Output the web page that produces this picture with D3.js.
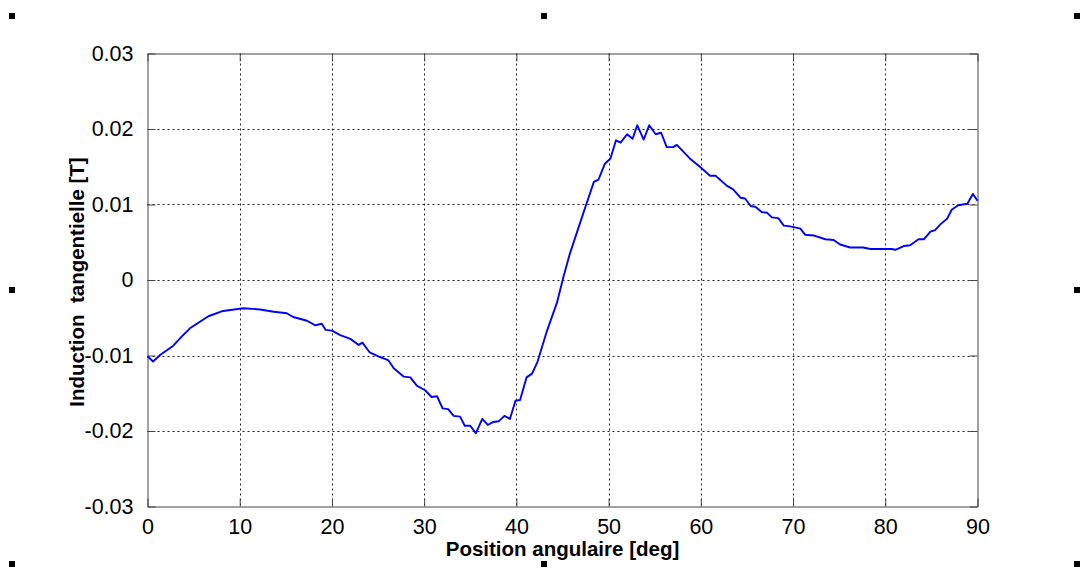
<!DOCTYPE html>
<html>
<head>
<meta charset="utf-8">
<script src="https://cdn.jsdelivr.net/npm/d3@7/dist/d3.min.js"></script>
<style>
html,body{margin:0;padding:0;background:#fff;}
svg{display:block;font-family:"Liberation Sans",Arial,sans-serif;}
</style>
</head>
<body>
<svg id="chart" width="1080" height="571"></svg>
<script>
const angle = [0,0.6,1.4,2.8,3.7,4.6,6.6,8.2,10.4,12.2,13.7,15.1,15.8,17.3,18.2,18.9,19.3,20.0,20.9,22.0,22.9,23.3,24.1,25.2,26.1,26.7,27.8,28.5,29.2,30.1,30.8,31.4,32.0,32.6,33.2,33.9,34.4,35.0,35.6,36.3,36.9,37.5,38.1,38.7,39.3,39.9,40.4,41.1,41.7,42.3,43.3,44.4,45.1,45.8,46.7,47.6,48.4,48.9,49.6,50.2,50.8,51.3,52.0,52.6,53.1,53.8,54.4,55.1,55.7,56.3,57.0,57.4,58.1,58.8,59.9,61.0,61.6,62.8,63.5,64.3,64.8,65.4,65.9,66.6,67.2,67.7,68.4,69.0,69.7,70.8,71.3,72.2,73.5,74.4,75.1,76.2,77.6,78.4,79.6,80.7,81.1,82.0,82.7,83.6,84.2,84.9,85.4,86.0,86.7,87.2,87.9,88.9,89.5,90.0];
const induction = [-0.0101,-0.0108,-0.0099,-0.0087,-0.0075,-0.0064,-0.0048,-0.0041,-0.00375,-0.0039,-0.0042,-0.0044,-0.0049,-0.0054,-0.0060,-0.0058,-0.0066,-0.0067,-0.0073,-0.0078,-0.0086,-0.0083,-0.0096,-0.0102,-0.0106,-0.0117,-0.0128,-0.0129,-0.0140,-0.0146,-0.0155,-0.0154,-0.0170,-0.0171,-0.0180,-0.0181,-0.0193,-0.0193,-0.0203,-0.0184,-0.0192,-0.0188,-0.0187,-0.0180,-0.0184,-0.0160,-0.0159,-0.0129,-0.0124,-0.0108,-0.0068,-0.0030,0.0004,0.0035,0.0068,0.0101,0.0130,0.0133,0.0154,0.0161,0.0185,0.0182,0.0193,0.0187,0.0205,0.0186,0.0205,0.0193,0.0195,0.0176,0.0176,0.0179,0.0170,0.0161,0.0150,0.0138,0.0138,0.0125,0.0120,0.0109,0.0108,0.0098,0.0097,0.0090,0.0089,0.0083,0.0082,0.0072,0.0071,0.0068,0.0060,0.0059,0.0054,0.0053,0.0047,0.0043,0.0043,0.0041,0.0041,0.0041,0.0040,0.0045,0.0046,0.0054,0.0054,0.0064,0.0066,0.0074,0.0081,0.0093,0.0099,0.0101,0.0114,0.0105];
const xTicks = [0,10,20,30,40,50,60,70,80,90];
const yTicks = [-0.03,-0.02,-0.01,0,0.01,0.02,0.03];
const yTickLabels = ["-0.03","-0.02","-0.01","0","0.01","0.02","0.03"];
const xLabel = "Position angulaire [deg]";
const yLabel = "Induction  tangentielle [T]";

const svg = d3.select("#chart");
const L = 147.5, R = 977.5, T = 53.5, B = 506.5;
const x = d3.scaleLinear().domain([0,90]).range([L,R]);
const y = d3.scaleLinear().domain([-0.03,0.03]).range([B,T]);

// grid
const grid = svg.append("g").attr("stroke","#222").attr("stroke-width",1).attr("stroke-dasharray","2,3");
xTicks.slice(1,-1).forEach(t=>{
  grid.append("line").attr("x1",Math.round(x(t))+0.5).attr("x2",Math.round(x(t))+0.5).attr("y1",T).attr("y2",B);
});
yTicks.slice(1,-1).forEach(t=>{
  grid.append("line").attr("y1",Math.round(y(t))+0.5).attr("y2",Math.round(y(t))+0.5).attr("x1",L).attr("x2",R);
});

// axes (bottom + left with labels), inward ticks
const fs = "21.5px";
const xAxis = svg.append("g").attr("transform",`translate(0,${B})`)
  .call(d3.axisBottom(x).tickValues(xTicks).tickFormat(d3.format("d")).tickSizeInner(-8).tickSizeOuter(0).tickPadding(16));
const yAxis = svg.append("g").attr("transform",`translate(${L},0)`)
  .call(d3.axisLeft(y).tickValues(yTicks).tickFormat((d,i)=>yTickLabels[i]).tickSizeInner(-8).tickSizeOuter(0).tickPadding(14));
const xAxisTop = svg.append("g").attr("transform",`translate(0,${T})`)
  .call(d3.axisTop(x).tickValues(xTicks).tickFormat("").tickSizeInner(-8).tickSizeOuter(0));
const yAxisRight = svg.append("g").attr("transform",`translate(${R},0)`)
  .call(d3.axisRight(y).tickValues(yTicks).tickFormat("").tickSizeInner(-8).tickSizeOuter(0));
[xAxis,yAxis,xAxisTop,yAxisRight].forEach(g=>{
  g.select(".domain").attr("stroke","#444");
  g.selectAll(".tick line").attr("stroke","#444");
  g.selectAll("text").attr("font-size",fs).attr("fill","#000").attr("font-family","'Liberation Sans',Arial,sans-serif");
});
xAxis.selectAll("text").attr("dy","0.55em");

// line
const line = d3.line().x((d,i)=>x(angle[i])).y(d=>y(d));
svg.append("path").datum(induction).attr("d",line).attr("fill","none").attr("stroke","#0000ff").attr("stroke-width",1.9).attr("stroke-linejoin","round");

// labels
svg.append("text").attr("x",(L+R)/2).attr("y",556).attr("text-anchor","middle")
  .attr("font-size","20.5px").attr("font-weight","bold").text(xLabel);
svg.append("text").attr("transform",`translate(84,${(T+B)/2+2}) rotate(-90)`).attr("text-anchor","middle")
  .attr("font-size","20.5px").attr("font-weight","bold").attr("xml:space","preserve").style("white-space","pre").text(yLabel);

// selection handles
const handles = [[9,13],[541,13],[1074,13],[9,287],[1074,287],[9,561],[541,561],[1074,561]];
svg.append("g").selectAll("rect").data(handles).join("rect")
  .attr("x",d=>d[0]).attr("y",d=>d[1]).attr("width",6).attr("height",6).attr("fill","#000");
</script>
</body>
</html>
